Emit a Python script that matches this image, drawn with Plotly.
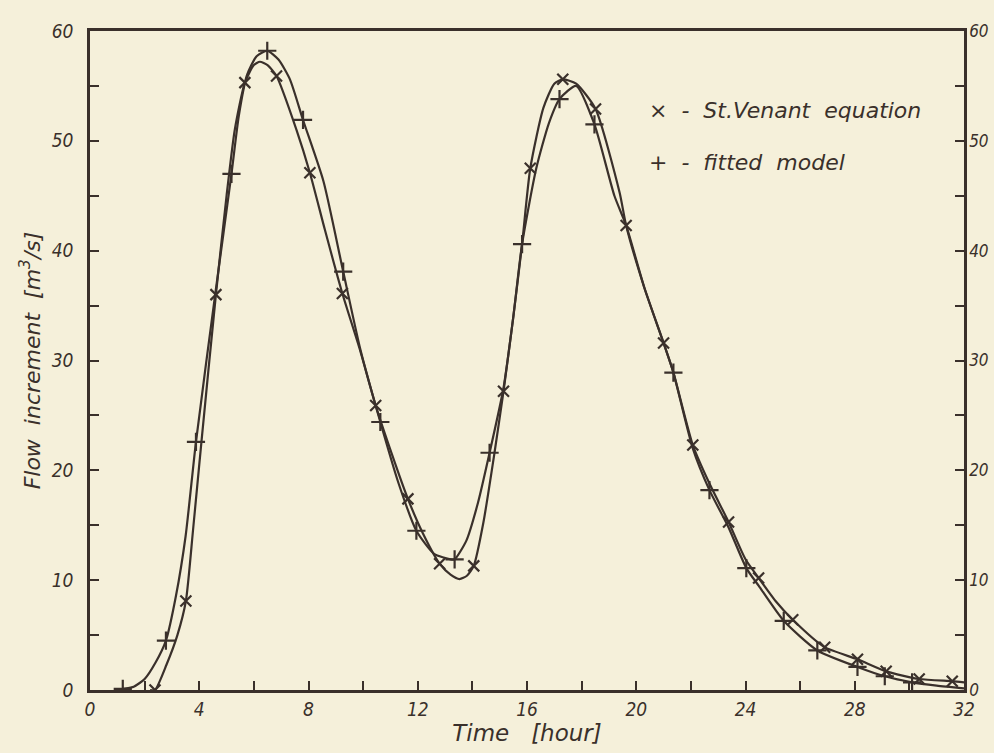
import plotly.graph_objects as go

# ---- St. Venant equation: curve points and marked points ----
stv_curve_t = [2.2, 2.38, 2.8, 3.2, 3.51, 3.77, 4.08, 4.61, 5.0, 5.3, 5.67, 6.0, 6.22, 6.5,
               6.83, 7.56, 8.05, 8.6, 9.24, 9.88, 10.46, 11.05, 11.64, 12.2, 12.8, 13.2, 13.53,
               13.8, 14.05, 14.4, 14.81, 15.14, 15.5, 15.82, 16.12, 16.6, 17.0, 17.31, 17.8,
               18.51, 19.39, 19.63, 20.3, 21.0, 21.36, 22.07, 22.68, 23.38, 24.0, 24.48, 25.1,
               25.73, 26.9, 28.1, 29.15, 30.36, 31.57, 32.0]
stv_curve_v = [0.0, 0.0, 2.3, 5.0, 8.1, 14.5, 22.6, 36.0, 45.0, 51.0, 55.3, 56.9, 57.2, 56.9,
               55.9, 51.0, 47.1, 41.9, 36.1, 31.0, 25.9, 21.5, 17.4, 14.2, 11.5, 10.5, 10.1,
               10.4, 11.3, 15.2, 21.6, 27.2, 34.0, 40.6, 47.5, 53.0, 55.2, 55.6, 55.2,
               52.9, 45.3, 42.3, 36.6, 31.6, 28.9, 22.3, 18.8, 15.3, 11.9, 10.2, 8.1,
               6.4, 3.9, 2.8, 1.7, 1.0, 0.8, 0.7]

stv_mark_t = [2.38, 3.51, 4.61, 5.67, 6.83, 8.05, 9.24, 10.46, 11.64, 12.8, 14.05, 15.14, 16.12,
              17.31, 18.51, 19.63, 21.0, 22.07, 23.38, 24.48, 25.73, 26.9, 28.1, 29.15, 30.36, 31.57]
stv_mark_v = [0.0, 8.1, 36.0, 55.3, 55.9, 47.1, 36.1, 25.9, 17.4, 11.5, 11.3, 27.2, 47.5,
              55.6, 52.9, 42.3, 31.6, 22.3, 15.3, 10.2, 6.4, 3.9, 2.8, 1.7, 1.0, 0.8]

# ---- fitted model: curve points and marked points ----
fit_curve_t = [1.0, 1.2, 1.6, 2.0, 2.4, 2.78, 3.15, 3.5, 3.88, 4.61, 5.18, 5.45, 5.75,
               6.1, 6.49, 6.9, 7.32, 7.8, 8.55, 9.27, 9.9, 10.63, 11.3, 11.95, 12.6, 13.2,
               13.35, 13.78, 14.2, 14.63, 15.14, 15.5, 15.82, 16.34, 16.8, 17.19, 17.8, 18.47,
               19.2, 19.63, 20.3, 21.0, 21.36, 22.07, 22.68, 23.38, 24.03, 24.48, 25.4, 26.63,
               28.1, 29.1, 30.1, 31.0, 32.0]
fit_curve_v = [0.0, 0.1, 0.3, 1.0, 2.5, 4.5, 8.6, 14.0, 22.6, 36.5, 47.0, 52.3, 56.0,
               57.7, 58.2, 57.4, 55.6, 51.9, 46.3, 38.1, 31.0, 24.4, 18.8, 14.5, 12.4, 11.9,
               11.9, 13.6, 17.0, 21.6, 27.5, 34.0, 40.6, 47.5, 51.6, 53.8, 55.0, 51.5,
               45.0, 42.3, 36.6, 31.6, 28.9, 22.0, 18.2, 14.8, 11.1, 9.5, 6.3, 3.6,
               2.1, 1.25, 0.7, 0.4, 0.15]

fit_mark_t = [1.2, 2.78, 3.88, 5.18, 6.49, 7.8, 9.27, 10.63, 11.95, 13.35, 14.63, 15.82, 17.19,
              18.47, 21.36, 22.68, 24.03, 25.4, 26.63, 28.1, 29.1, 30.1]
fit_mark_v = [0.1, 4.5, 22.6, 47.0, 58.2, 51.9, 38.1, 24.4, 14.5, 11.9, 21.6, 40.6, 53.8,
              51.5, 28.9, 18.2, 11.1, 6.3, 3.6, 2.1, 1.25, 0.7]

x_ticks = [0, 4, 8, 12, 16, 20, 24, 28, 32]
y_ticks = [0, 10, 20, 30, 40, 50, 60]

ink = "#3a302b"
paper = "#f5f0da"
narrow = "DejaVu Sans Condensed, Liberation Sans Narrow, DejaVu Sans, sans-serif"
wide = "DejaVu Sans, Liberation Sans, sans-serif"
tick_font = dict(family=narrow, size=19, color=ink, style="italic")
right_tick_font = dict(family=narrow, size=17, color=ink, style="italic")
title_font = dict(family=wide, size=23, color=ink, style="italic")

fig = go.Figure()

fig.add_trace(go.Scatter(x=stv_curve_t, y=stv_curve_v, mode="lines",
                         line=dict(color=ink, width=2.2, shape="spline", smoothing=0.6),
                         hoverinfo="skip", showlegend=False))
fig.add_trace(go.Scatter(x=fit_curve_t, y=fit_curve_v, mode="lines",
                         line=dict(color=ink, width=2.2, shape="spline", smoothing=0.6),
                         hoverinfo="skip", showlegend=False))
fig.add_trace(go.Scatter(x=stv_mark_t, y=stv_mark_v, mode="markers", name="St.Venant equation",
                         marker=dict(symbol="x-thin", size=11, line=dict(color=ink, width=2.2)),
                         showlegend=False))
fig.add_trace(go.Scatter(x=fit_mark_t, y=fit_mark_v, mode="markers", name="fitted model",
                         marker=dict(symbol="cross-thin", size=13, line=dict(color=ink, width=2.2)),
                         showlegend=False))
# invisible trace that carries the right-hand axis
fig.add_trace(go.Scatter(x=[0], y=[0], yaxis="y2", mode="markers",
                         marker=dict(opacity=0), hoverinfo="skip", showlegend=False))

fig.update_layout(
    width=994, height=753,
    margin=dict(l=90, r=30, t=31, b=63, autoexpand=False),
    paper_bgcolor=paper, plot_bgcolor=paper,
    xaxis=dict(range=[0, 32], tickvals=x_ticks, ticktext=[str(v) for v in x_ticks],
               ticks="inside", ticklen=9, tickwidth=2, tickcolor=ink,
               minor=dict(dtick=2, tick0=0, ticks="inside", ticklen=9, tickwidth=2, tickcolor=ink),
               showline=True, linecolor=ink, linewidth=2.5, mirror=True, automargin=False,
               showgrid=False, zeroline=False, tickfont=tick_font,
               title=dict(text="Time   [hour]", standoff=6, font=title_font)),
    yaxis=dict(range=[0, 60], tickvals=y_ticks, ticktext=[str(v) for v in y_ticks],
               ticks="inside", ticklen=9, tickwidth=2, tickcolor=ink,
               minor=dict(dtick=5, tick0=0, ticks="inside", ticklen=9, tickwidth=2, tickcolor=ink),
               showline=True, linecolor=ink, linewidth=2.5, automargin=False,
               showgrid=False, zeroline=False, tickfont=tick_font, ticklabelstandoff=10,
               title=dict(text="Flow  increment  [m<sup>3</sup>/s]", standoff=6,
                          font=dict(family=wide, size=22, color=ink, style="italic"))),
    yaxis2=dict(range=[0, 60], overlaying="y", side="right",
                tickvals=y_ticks, ticktext=[str(v) for v in y_ticks],
                ticks="inside", ticklen=9, tickwidth=2, tickcolor=ink,
                minor=dict(dtick=5, tick0=0, ticks="inside", ticklen=9, tickwidth=2, tickcolor=ink),
                showline=True, linecolor=ink, linewidth=2.5, ticklabelstandoff=-1, automargin=False,
                showgrid=False, zeroline=False, tickfont=right_tick_font),
    showlegend=False,
)

# key in the upper right corner
legend_font = dict(family=wide, size=22, color=ink, style="italic")
fig.add_annotation(x=20.4, y=52.8, xref="x", yref="y", text="×  -  St.Venant  equation",
                   showarrow=False, xanchor="left", font=legend_font)
fig.add_annotation(x=20.4, y=48.0, xref="x", yref="y", text="+  -  fitted  model",
                   showarrow=False, xanchor="left", font=legend_font)

fig.write_html("out.html")
